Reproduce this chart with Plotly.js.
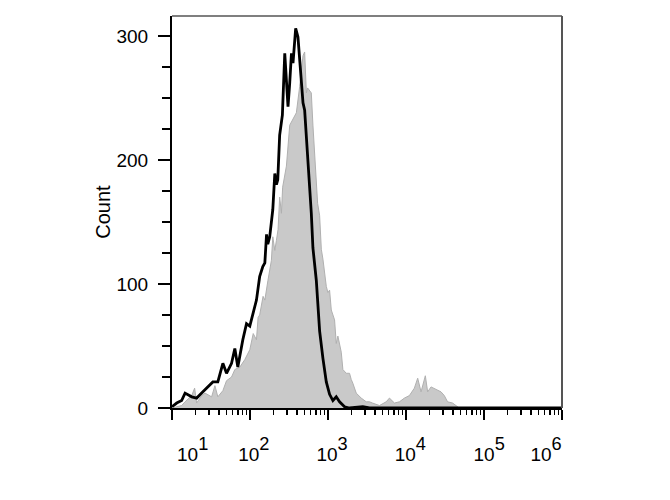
<!DOCTYPE html>
<html><head><meta charset="utf-8">
<script src="https://cdn.plot.ly/plotly-3.0.1.min.js"></script>
<style>html,body{margin:0;padding:0;background:#fff}#chart{width:670px;height:500px}</style>
</head><body><div id="chart"></div>
<script>
// Gray filled histogram (intensity, count)
const grayX = [10,13.3,14.7,17.9,19.5,20.7,24.0,26.5,32.2,35.5,38.7,44.9,50,58,63.9,74.1,85.8,99.4,110,121,127,133,147,155,170,188,196,208,218,229,240,253,262,293,323,356,393,433,478,502,528,548,611,641,708,736,781,821,861,906,951,998,1048,1102,1156,1214,1276,1339,1479,1552,1714,1888,1986,2081,2301,2667,3090,3405,3717,4150,4570,5570,6135,7110,8240,9545,11050,12800,14120,15600,17700,18950,20950,24270,28100,30980,34130,39550,43730,48200,1000000];
const grayY = [0,2,5,10,16,4,10,12,9,18,9,14,22,25,31,33,39,47,60,55,73,75,90,87,103,119,138,127,135,144,170,157,178,195,228,233,238,259,284,287,254,258,254,228,181,165,155,128,120,106,98,93,95,79,75,71,52,58,45,31,28,28,23,20,12,8,5,5,4,3,2,5,8,4,5,8,10,16,24,13,26,13,17,15,13,10,5,4,2,0,0];
// Black line histogram (intensity, count)
const blackX = [10,11.5,13.3,14.7,17.9,20.7,24.0,27.8,33.4,38.7,44.9,50,58,63.9,69.8,80.9,90.2,99.4,108.6,121,133,146,155,163,169,179,196,208,218,227,240,260,279,293,307,323,340,356,385,412,456,478,502,528,548,582,611,641,708,781,821,861,951,1048,1156,1276,1407,1630,1888,2794,3405,1000000];
const blackY = [1,4,6,12,9,8,12,16,21,21,36,28,36,48,33,55,68,66,76,87,106,114,117,140,132,138,160,189,180,184,220,236,286,262,243,262,286,278,306,299,265,246,240,220,208,181,157,129,103,62,49,40,21,11,6,9,5,1,0,1,0,0];

const xTickVals = [10,100,1000,10000,100000,1000000];
const xTickExponents = ['1','2','3','4','5','6'];
const minorMultipliers = [2,3,4,5,6,7,8,9];
const yTickVals = [0,100,200,300];
const yTickText = ['0','100','200','300'];
const yAxisTitle = 'Count';

// layout-only: horizontal label offsets in decades
const labelShift = [0.265,0.049,0.052,0.056,0.066,-0.205];

const minorVals = [];
xTickVals.slice(0,-1).forEach(d => minorMultipliers.forEach(m => minorVals.push(d*m)));
const labelVals = xTickVals.map((v,i) => v*Math.pow(10,labelShift[i]));
const xTickText = xTickExponents.map(e => '<span style="font-size:19px">10</span><sup>' + e + '</sup>');

const FONT = 'Liberation Sans, Arial, sans-serif';

const traces = [
  {x: grayX, y: grayY, type:'scatter', mode:'lines', fill:'tozeroy',
   fillcolor:'#c9c9c9', line:{color:'#b0b0b0', width:1}, hoverinfo:'skip', showlegend:false},
  {x: blackX, y: blackY, type:'scatter', mode:'lines',
   line:{color:'#000', width:2.8}, hoverinfo:'skip', showlegend:false},
  {x:[10], y:[0], xaxis:'x2', yaxis:'y', mode:'markers', marker:{opacity:0}, hoverinfo:'skip', showlegend:false}
];

const layout = {
  width:670, height:500,
  margin:{l:172, r:108, t:16, b:92},
  paper_bgcolor:'#fff', plot_bgcolor:'#fff',
  font:{family:FONT, color:'#000', size:19},
  showlegend:false,
  xaxis:{type:'log', range:[1,6], tickmode:'array', tickvals:xTickVals, showticklabels:false,
    ticks:'outside', ticklen:10, tickwidth:2, tickcolor:'#000',
    minor:{tickmode:'array', tickvals:minorVals, ticks:'outside', ticklen:5, tickwidth:1.5, tickcolor:'#000', showgrid:false},
    showline:true, linecolor:'#000', linewidth:2, showgrid:false, zeroline:false, fixedrange:true},
  xaxis2:{type:'log', range:[1,6], overlaying:'x', anchor:'y', side:'bottom', tickmode:'array',
    tickvals:labelVals, ticktext:xTickText, ticks:'', showline:false, showgrid:false, zeroline:false,
    ticklabelstandoff:26, tickfont:{family:FONT, size:26, color:'#000'}},
  yaxis:{range:[0,316], tickmode:'array', tickvals:yTickVals, ticktext:yTickText,
    ticks:'outside', ticklen:12, tickwidth:2, tickcolor:'#000',
    minor:{dtick:25, tick0:0, ticks:'outside', ticklen:8, tickwidth:1.5, tickcolor:'#000', showgrid:false},
    showline:true, linecolor:'#000', linewidth:2, showgrid:false, zeroline:false,
    tickfont:{family:FONT, size:19, color:'#000'}, ticklabelstandoff:6,
    title:{text:yAxisTitle, font:{family:FONT, size:20, color:'#000'}, standoff:0}},
  shapes:[
    {type:'line', xref:'paper', yref:'paper', x0:0, x1:1, y0:1, y1:1, line:{color:'#555', width:1.5}},
    {type:'line', xref:'paper', yref:'paper', x0:1, x1:1, y0:0, y1:1, line:{color:'#555', width:2}}
  ]
};

Plotly.newPlot('chart', traces, layout, {staticPlot:true, displayModeBar:false});
</script>
</body></html>
